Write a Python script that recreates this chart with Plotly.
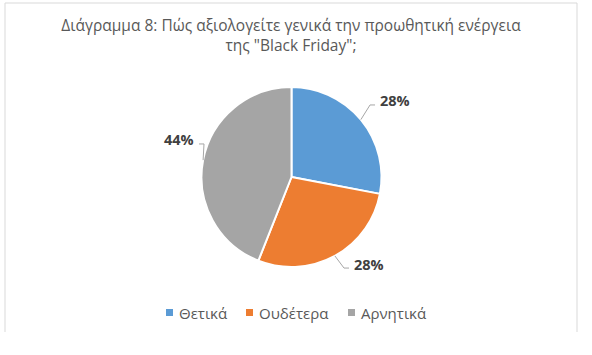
import math
import plotly.graph_objects as go

categories = ["Θετικά", "Ουδέτερα", "Αρνητικά"]
values = [28, 28, 44]
colors = ["#5B9BD5", "#ED7D31", "#A5A5A5"]
title_text = "Διάγραμμα 8: Πώς αξιολογείτε γενικά την προωθητική ενέργεια<br>της \"Black Friday\";"

W, H = 592, 355
cx, cy, R = 291.5, 177.0, 90.0  # pie centre / radius in pixels
FONT = "Open Sans, Noto Sans, sans-serif"

# label placement tweaks (layout only)
label_angle_offset = [-1.7, -6.0, 10.4]   # degrees
label_radius = [1.28, 1.178, 1.138]       # x R
legend_x = [166, 246, 348]                # marker left edge, px
legend_y = 312.5


def px(x):
    return x / W


def py(y):
    return 1 - y / H


fig = go.Figure()
fig.add_trace(go.Pie(
    labels=categories, values=values, sort=False, direction="clockwise",
    rotation=0, marker=dict(colors=colors, line=dict(color="white", width=2)),
    textinfo="none", hoverinfo="label+percent",
    domain=dict(x=[px(cx - R), px(cx + R)], y=[py(cy + R), py(cy - R)]),
    showlegend=False,
))

annotations = []
shapes = []
total = sum(values)
cum = 0
for i, v in enumerate(values):
    mid_deg = (cum + v / 2) / total * 360
    cum += v
    mid = math.radians(mid_deg)
    ex, ey = cx + R * math.sin(mid), cy - R * math.cos(mid)
    la = math.radians(mid_deg + label_angle_offset[i])
    lr = R * label_radius[i]
    ax, ay = cx + lr * math.sin(la), cy - lr * math.cos(la)
    s = 1 if math.sin(la) > 0 else -1
    elx, ely = ax - 8 * s, ay + 4
    enx, eny = ax - 3 * s, ay + 4
    path = f"M {px(ex)},{py(ey)} L {px(elx)},{py(ely)} L {px(enx)},{py(eny)}"
    shapes.append(dict(type="path", xref="paper", yref="paper", path=path,
                       line=dict(color="#A6A6A6", width=1)))
    annotations.append(dict(
        x=px(ax), y=py(ay), xref="paper", yref="paper",
        text=f"<b>{round(v / total * 100)}%</b>", showarrow=False,
        xanchor="left" if s > 0 else "right", yanchor="middle",
        font=dict(family=FONT, size=14.5, color="#404040"),
    ))

# legend (manual, to match Excel spacing)
for i, cat in enumerate(categories):
    x0 = legend_x[i]
    shapes.append(dict(type="rect", xref="paper", yref="paper",
                       x0=px(x0), x1=px(x0 + 7), y0=py(legend_y + 3.5), y1=py(legend_y - 3.5),
                       fillcolor=colors[i], line=dict(width=0)))
    annotations.append(dict(
        x=px(x0 + 11), y=py(legend_y), xref="paper", yref="paper", text=cat,
        showarrow=False, xanchor="left", yanchor="middle",
        font=dict(family=FONT, size=15, color="#595959"),
    ))

# chart border (left, top, right)
for (x0, y0, x1, y1) in [(5, 3, 5, 332), (5, 3, 577, 3), (577, 3, 577, 332)]:
    shapes.append(dict(type="line", xref="paper", yref="paper",
                       x0=px(x0), y0=py(y0), x1=px(x1), y1=py(y1),
                       line=dict(color="#D9D9D9", width=1)))

fig.update_layout(
    width=W, height=H, autosize=False,
    margin=dict(l=0, r=0, t=0, b=0),
    paper_bgcolor="white", plot_bgcolor="white",
    title=dict(text=title_text, x=px(291), xanchor="center", y=py(31), yanchor="middle",
               font=dict(family=FONT, size=15.5, color="#595959")),
    showlegend=False,
    annotations=annotations, shapes=shapes,
)

fig.write_html("out.html")
